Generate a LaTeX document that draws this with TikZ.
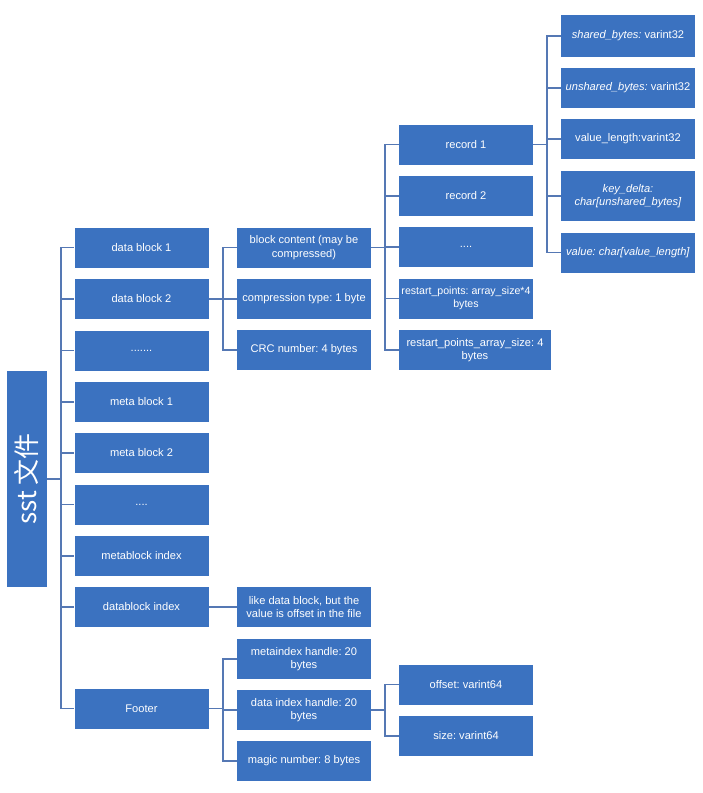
\documentclass[tikz,border=0pt]{standalone}
\usepackage{fontspec}
\setmainfont{Liberation Sans}
\newfontfamily\cjk{Noto Sans CJK SC}
\usetikzlibrary{calc, positioning}
\definecolor{boxblue}{HTML}{3B72C0}
\definecolor{linkblue}{HTML}{5578B4}
\frenchspacing

\begin{document}
\begin{tikzpicture}[x=1pt, y=-1pt,
    box/.style={fill=boxblue, text=white, align=center, inner sep=0pt,
        minimum width=134pt, minimum height=40pt,
        font=\fontsize{11.1}{13.5}\selectfont},
    link/.style={draw=linkblue, line width=1.2pt}]
    \useasboundingbox (0,0) rectangle (703,793);

    % Gốc
    \node[box, minimum width=40pt, minimum height=216pt] (root) at (27,479)
        {\rotatebox{90}{\cjk\fontsize{26}{30}\selectfont sst 文件}};

    % Cột 1
    \node[box] (db1) at (141.5,247.5) {data block 1};
    \node[box] (db2) at (141.5,299) {data block 2};
    \node[box] (dots1) at (141.5,350.5) {.......};
    \node[box] (mb1) at (141.5,402) {meta block 1};
    \node[box] (mb2) at (141.5,453) {meta block 2};
    \node[box] (dots2) at (141.5,504.5) {....};
    \node[box] (mbi) at (141.5,556) {metablock index};
    \node[box] (dbi) at (141.5,607) {datablock index};
    \node[box] (footer) at (141.5,708.5) {Footer};

    % Cột 2
    \node[box] (content) at (304,247.5) {block content (may be\\compressed)};
    \node[box] (ctype) at (304,299) {compression type: 1 byte};
    \node[box] (crc) at (304,350) {CRC number: 4 bytes};
    \node[box] (like) at (304,607) {like data block, but the\\value is offset in the file};
    \node[box] (mih) at (304,659) {metaindex handle: 20\\bytes};
    \node[box] (dih) at (304,710) {data index handle: 20\\bytes};
    \node[box] (magic) at (304,761) {magic number: 8 bytes};

    % Cột 3
    \node[box] (rec1) at (466,144.5) {record 1};
    \node[box] (rec2) at (466,196) {record 2};
    \node[box] (dots3) at (466,247) {....};
    \node[box, font=\fontsize{10.6}{13.5}\selectfont] (rp) at (466,298.5)
        {restart\_points: array\_size*4\\bytes};
    \node[box, minimum width=152pt] (rpas) at (475,350) {restart\_points\_array\_size: 4\\bytes};
    \node[box] (offset) at (466,684.5) {offset: varint64};
    \node[box] (size) at (466,736) {size: varint64};

    % Cột 4
    \node[box, minimum height=42pt] (shared) at (628,36) {\textit{shared\_bytes:} varint32};
    \node[box] (unshared) at (628,88) {\textit{unshared\_bytes:} varint32};
    \node[box] (vlen) at (628,139) {value\_length:varint32};
    \node[box, minimum height=50pt] (kdelta) at (628,196) {\textit{key\_delta:}\\\textit{char[unshared\_bytes]}};
    \node[box] (value) at (628,252.5) {\textit{value: char[value\_length]}};

    % Trục nối
    \coordinate (s1) at (61,0);
    \coordinate (s2) at (223,0);
    \coordinate (s3) at (385,0);
    \coordinate (s4) at (547,0);

    \foreach \c in {db1,db2,dots1,mb1,mb2,dots2,mbi,dbi,footer}
        \draw[link] (root.east) -- (s1 |- root.east) |- (\c.west);
    \foreach \c in {content,ctype,crc}
        \draw[link] (db2.east) -- (s2 |- db2.east) |- (\c.west);
    \draw[link] (dbi.east) -- (like.west);
    \foreach \c in {mih,dih,magic}
        \draw[link] (footer.east) -- (s2 |- footer.east) |- (\c.west);
    \foreach \c in {rec1,rec2,dots3,rp,rpas}
        \draw[link] (content.east) -- (s3 |- content.east) |- (\c.west);
    \foreach \c in {offset,size}
        \draw[link] (dih.east) -- (s3 |- dih.east) |- (\c.west);
    \foreach \c in {shared,unshared,vlen,kdelta,value}
        \draw[link] (rec1.east) -- (s4 |- rec1.east) |- (\c.west);
\end{tikzpicture}
\end{document}
